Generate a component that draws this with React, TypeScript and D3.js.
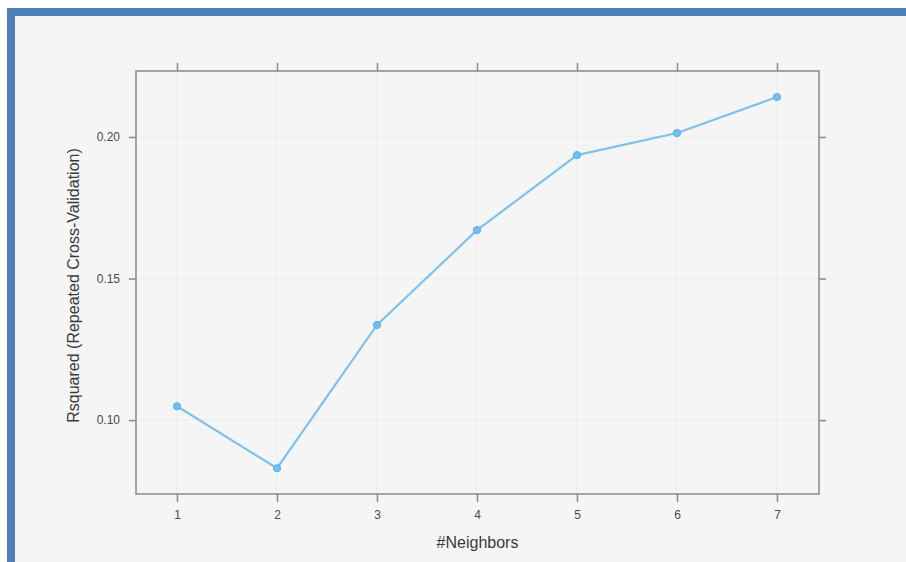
import { useEffect, useRef } from 'react';
import * as d3 from 'd3';

const neighbors = [1, 2, 3, 4, 5, 6, 7];
const rsquared = [0.1049, 0.0830, 0.1336, 0.1671, 0.1936, 0.2014, 0.2141];
const yTicks = [0.10, 0.15, 0.20];

export default function App() {
  const svgRef = useRef<SVGSVGElement>(null);

  useEffect(() => {
    if (!svgRef.current) return;
    const width = 906;
    const height = 562;
    const svg = d3.select(svgRef.current);
    svg.selectAll('*').remove();
    svg.attr('width', width).attr('height', height);

    // frame + background
    svg.append('rect').attr('width', width).attr('height', height).attr('fill', '#ffffff');
    svg.append('rect').attr('x', 7).attr('y', 8).attr('width', width - 7).attr('height', height - 8).attr('fill', '#4f7fbb');
    svg.append('rect').attr('x', 15).attr('y', 16).attr('width', width - 15).attr('height', height - 16).attr('fill', '#f5f5f5');

    const panel = { left: 136, right: 819, top: 71, bottom: 494 };

    const x = d3.scaleLinear().domain([0.59, 7.42]).range([panel.left, panel.right]);
    const y = d3.scaleLinear().domain([0.0739, 0.2233]).range([panel.bottom, panel.top]);

    const axisColor = '#8a8a8a';
    const font = 'Helvetica, Arial, "Liberation Sans", sans-serif';

    // faint grid
    const grid = svg.append('g');
    grid.selectAll('.vg').data(neighbors).enter().append('line')
      .attr('x1', d => x(d)).attr('x2', d => x(d))
      .attr('y1', panel.top).attr('y2', panel.bottom)
      .attr('stroke', '#ebebeb').attr('stroke-width', 1);
    grid.selectAll('.hg').data(yTicks).enter().append('line')
      .attr('x1', panel.left).attr('x2', panel.right)
      .attr('y1', d => y(d)).attr('y2', d => y(d))
      .attr('stroke', '#ebebeb').attr('stroke-width', 1);

    // axes
    const bottom = svg.append('g').attr('transform', `translate(0, ${panel.bottom})`)
      .call(d3.axisBottom(x).tickValues(neighbors).tickFormat(d3.format('d')).tickSize(8).tickPadding(8));
    const top = svg.append('g').attr('transform', `translate(0, ${panel.top})`)
      .call(d3.axisTop(x).tickValues(neighbors).tickFormat(() => '').tickSize(8));
    const left = svg.append('g').attr('transform', `translate(${panel.left}, 0)`)
      .call(d3.axisLeft(y).tickValues(yTicks).tickFormat(d3.format('.2f')).tickSize(7).tickPadding(9));
    const right = svg.append('g').attr('transform', `translate(${panel.right}, 0)`)
      .call(d3.axisRight(y).tickValues(yTicks).tickFormat(() => '').tickSize(7));

    [bottom, top, left, right].forEach(a => {
      a.select('.domain').remove();
      a.selectAll('line').attr('stroke', axisColor).attr('stroke-width', 1.5);
      a.selectAll('text').attr('fill', '#4a4a4a').attr('font-size', 12).attr('font-family', font);
    });

    svg.append('rect')
      .attr('x', panel.left).attr('y', panel.top)
      .attr('width', panel.right - panel.left).attr('height', panel.bottom - panel.top)
      .attr('fill', 'none').attr('stroke', axisColor).attr('stroke-width', 1.5);

    // line + points
    const pts = neighbors.map((n, i) => [n, rsquared[i]] as [number, number]);
    const line = d3.line<[number, number]>().x(d => x(d[0])).y(d => y(d[1]));
    svg.append('path').datum(pts)
      .attr('d', line)
      .attr('fill', 'none')
      .attr('stroke', '#7dc2ec')
      .attr('stroke-width', 2.2);

    svg.selectAll('.pt').data(pts).enter().append('circle')
      .attr('cx', d => x(d[0])).attr('cy', d => y(d[1]))
      .attr('r', 3.6)
      .attr('fill', '#72bff0')
      .attr('stroke', '#5aaee6')
      .attr('stroke-width', 1);

    // titles
    svg.append('text')
      .attr('x', (panel.left + panel.right) / 2).attr('y', 548)
      .attr('text-anchor', 'middle')
      .attr('font-family', font).attr('font-size', 16).attr('fill', '#3a3a3a')
      .text('#Neighbors');

    svg.append('text')
      .attr('transform', `translate(79, ${(panel.top + panel.bottom) / 2 + 3}) rotate(-90)`)
      .attr('text-anchor', 'middle')
      .attr('font-family', font).attr('font-size', 16).attr('fill', '#3a3a3a')
      .text('Rsquared (Repeated Cross-Validation)');
  }, []);

  return <svg ref={svgRef} style={{ position: 'absolute', left: 0, top: 0 }}></svg>;
}
